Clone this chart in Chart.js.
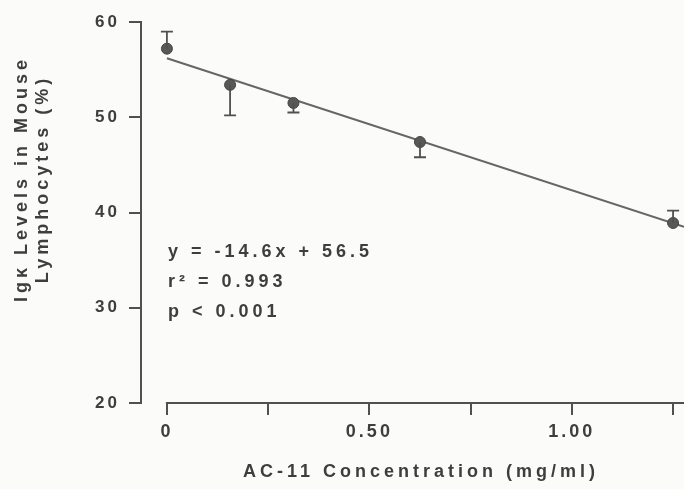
<!DOCTYPE html>
<html>
<head>
<meta charset="utf-8">
<script src="https://cdn.jsdelivr.net/npm/chart.js@4.4.1/dist/chart.umd.min.js"></script>
<style>
    html, body { margin: 0; padding: 0; background: #fbfbf9; }
    #wrap { width: 684px; height: 489px; position: relative; }
</style>
</head>
<body>
<div id="wrap"><canvas id="chart"></canvas></div>
<script>
// Data
const doses = [0, 0.156, 0.3125, 0.625, 1.25];
const levels = [57.2, 53.4, 51.5, 47.4, 38.9];
const errUp = [1.8, 0, 0, 0, 1.3];
const errDown = [0, 3.2, 1.0, 1.6, 0];
const fitX = [0, 1.277];
const fitY = [56.2, 38.5];
const xTicks = [0, 0.25, 0.5, 0.75, 1.0, 1.25];
const xTickLabels = ['0', '', '0.50', '', '1.00', ''];
const yTicks = [20, 30, 40, 50, 60];
const yTitle = ['Igκ Levels in Mouse', 'Lymphocytes (%)'];
const xTitle = 'AC-11 Concentration (mg/ml)';
const statLines = ['y = -14.6x + 56.5', 'r\u00b2 = 0.993', 'p < 0.001'];

const ink = '#3e3e3e';
const family = '"Liberation Sans", Arial, sans-serif';

// error bars, the x axis line (starts at 0) and the texts
const extras = {
    id: 'extras',
    beforeDraw(chart) {
        chart.ctx.letterSpacing = '3px';
    },
    afterDraw(chart) {
        const ctx = chart.ctx;
        const x = chart.scales.x;
        const y = chart.scales.y;
        const area = chart.chartArea;
        ctx.save();
        ctx.strokeStyle = '#505050';
        ctx.lineWidth = 2;
        ctx.beginPath();
        ctx.moveTo(x.getPixelForValue(0) - 1, area.bottom);
        ctx.lineTo(area.right, area.bottom);
        ctx.stroke();

        ctx.lineWidth = 1.8;
        doses.forEach(function(d, i) {
            const px = x.getPixelForValue(d);
            const py = y.getPixelForValue(levels[i]);
            [errUp[i], -errDown[i]].forEach(function(e) {
                if (!e) return;
                const ey = y.getPixelForValue(levels[i] + e);
                ctx.beginPath();
                ctx.moveTo(px, py);
                ctx.lineTo(px, ey);
                ctx.moveTo(px - 6, ey);
                ctx.lineTo(px + 6, ey);
                ctx.stroke();
            });
        });

        ctx.fillStyle = ink;
        ctx.textBaseline = 'middle';
        ctx.font = 'bold 18px ' + family;
        ctx.letterSpacing = '4px';
        ctx.textAlign = 'left';
        statLines.forEach(function(t, i) {
            ctx.fillText(t, 168, 252 + i * 30);
        });

        ctx.textAlign = 'center';
        ctx.fillText(xTitle, 421, 472);

        ctx.translate(0, 181);
        ctx.rotate(-Math.PI / 2);
        ctx.fillText(yTitle[0], 2, 22);
        ctx.fillText(yTitle[1], 2, 43);
        ctx.restore();
        ctx.letterSpacing = '0px';
    }
};

new Chart(document.getElementById('chart').getContext('2d'), {
    type: 'scatter',
    data: {
        datasets: [{
            data: doses.map((d, i) => ({ x: d, y: levels[i] })),
            pointRadius: 5.5,
            backgroundColor: '#585858',
            borderColor: '#444',
            borderWidth: 1
        }, {
            data: fitX.map((d, i) => ({ x: d, y: fitY[i] })),
            showLine: true,
            pointRadius: 0,
            borderColor: '#666',
            borderWidth: 2
        }]
    },
    options: {
        responsive: true,
        maintainAspectRatio: false,
        animation: false,
        layout: { autoPadding: false, padding: { top: 22, right: 0, left: 0, bottom: 0 } },
        plugins: {
            legend: { display: false },
            tooltip: { enabled: false }
        },
        scales: {
            x: {
                type: 'linear',
                min: -0.064,
                max: 1.277,
                afterBuildTicks: s => { s.ticks = xTicks.map(v => ({ value: v })); },
                afterFit: s => {
                    s.height = 86;
                    s.paddingLeft = 0;
                    s.paddingRight = 0;
                },
                border: { display: false },
                grid: {
                    drawOnChartArea: false,
                    tickLength: 12,
                    color: '#505050',
                    lineWidth: 2
                },
                ticks: {
                    autoSkip: false,
                    maxRotation: 0,
                    padding: 6,
                    color: ink,
                    font: { family: family, size: 18, weight: 'bold' },
                    callback: (v, i) => xTickLabels[i]
                }
            },
            y: {
                min: 20,
                max: 60,
                afterBuildTicks: s => { s.ticks = yTicks.map(v => ({ value: v })); },
                afterFit: s => { s.width = 141; },
                border: { color: '#505050', width: 2 },
                grid: {
                    drawOnChartArea: false,
                    tickLength: 12,
                    color: '#505050',
                    lineWidth: 2
                },
                ticks: {
                    padding: 9,
                    color: ink,
                    font: { family: family, size: 17, weight: 'bold' }
                }
            }
        }
    },
    plugins: [extras]
});
</script>
</body>
</html>
